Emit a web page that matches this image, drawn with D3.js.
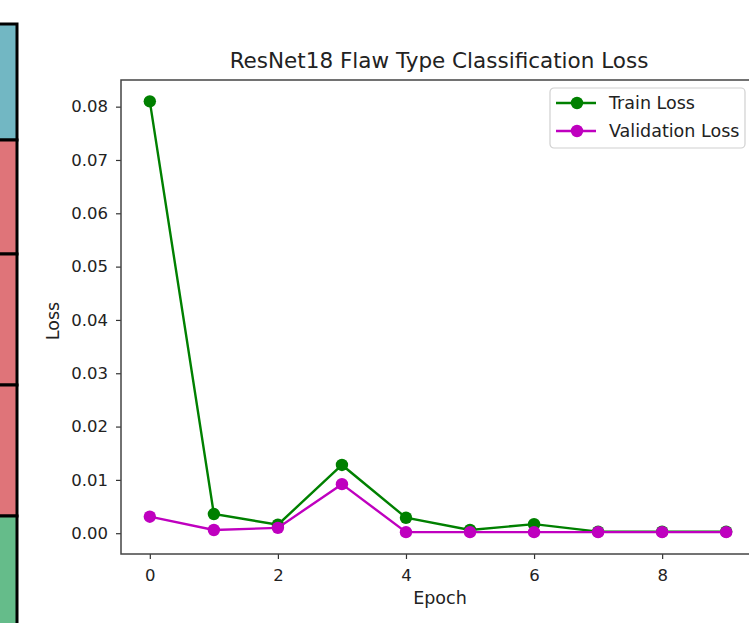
<!DOCTYPE html>
<html>
<head>
<meta charset="utf-8">
<script src="https://cdn.jsdelivr.net/npm/d3@7"></script>
<style>
  html, body { margin: 0; padding: 0; background: #fff; }
  svg { display: block; }
  text { font-family: "DejaVu Sans", sans-serif; fill: #222; }
</style>
</head>
<body>
<svg id="chart" width="749" height="623"></svg>
<script>
const epochs = [0, 1, 2, 3, 4, 5, 6, 7, 8, 9];
const trainLoss = [0.0810, 0.0036, 0.0016, 0.0128, 0.0029, 0.0006, 0.0017, 0.0003, 0.0003, 0.0003];
const valLoss   = [0.0031, 0.0006, 0.0010, 0.0092, 0.0002, 0.0002, 0.0002, 0.0002, 0.0002, 0.0002];
const xTicks = [0, 2, 4, 6, 8];
const yTicks = [0.00, 0.01, 0.02, 0.03, 0.04, 0.05, 0.06, 0.07, 0.08];
const seriesNames = ["Train Loss", "Validation Loss"];
const seriesColors = ["#008000", "#bf00bf"];
const stripColors = ["#72b7c3", "#df7479", "#df7479", "#df7479", "#65bc8a"];

const svg = d3.select("#chart");

// left strip (cropped neighbouring table)
const stripEdges = [24, 140, 254, 385, 516, 640];
svg.append("g").selectAll("rect").data(stripColors).join("rect")
  .attr("x", -4).attr("width", 21)
  .attr("y", (d, i) => stripEdges[i])
  .attr("height", (d, i) => stripEdges[i + 1] - stripEdges[i])
  .attr("fill", d => d)
  .attr("stroke", "#000").attr("stroke-width", 3);

const mLeft = 121, mRight = 755, mTop = 80, mBottom = 554;
const x = d3.scaleLinear().domain([-0.45, 9.45]).range([mLeft, mRight]);
const y = d3.scaleLinear().domain([-0.0039, 0.085]).range([mBottom, mTop]);

// axes
const xAxis = d3.axisBottom(x).tickValues(xTicks).tickFormat(d3.format("d")).tickSize(5).tickPadding(10);
const yAxis = d3.axisLeft(y).tickValues(yTicks).tickFormat(d3.format(".2f")).tickSize(5).tickPadding(8);

const gx = svg.append("g").attr("transform", `translate(0,${mBottom})`).call(xAxis);
const gy = svg.append("g").attr("transform", `translate(${mLeft},0)`).call(yAxis);
[gx, gy].forEach(g => {
  g.select(".domain").remove();
  g.selectAll(".tick line").attr("stroke", "#333").attr("stroke-width", 1.2);
  g.selectAll(".tick text").attr("font-family", "DejaVu Sans, sans-serif").attr("font-size", 16.5).attr("fill", "#222");
});

// frame
svg.append("rect").attr("x", mLeft).attr("y", mTop)
  .attr("width", mRight - mLeft).attr("height", mBottom - mTop)
  .attr("fill", "none").attr("stroke", "#444").attr("stroke-width", 1.5);

// series
const series = [trainLoss, valLoss];
const line = d3.line().x((d, i) => x(epochs[i])).y(d => y(d));
series.forEach((vals, si) => {
  svg.append("path").datum(vals).attr("d", line)
    .attr("fill", "none").attr("stroke", seriesColors[si]).attr("stroke-width", 2.4);
  svg.append("g").selectAll("circle").data(vals).join("circle")
    .attr("cx", (d, i) => x(epochs[i])).attr("cy", d => y(d)).attr("r", 6.2)
    .attr("fill", seriesColors[si]);
});

// title and labels
svg.append("text").attr("x", (mLeft + mRight) / 2 + 1).attr("y", 68)
  .attr("text-anchor", "middle").attr("font-size", 21.5).text("ResNet18 Flaw Type Classification Loss");
svg.append("text").attr("x", 440).attr("y", 604)
  .attr("text-anchor", "middle").attr("font-size", 17.5).text("Epoch");
svg.append("text").attr("transform", "translate(59,321) rotate(-90)")
  .attr("text-anchor", "middle").attr("font-size", 17.5).text("Loss");

// legend
const lg = svg.append("g").attr("transform", "translate(550,88)");
lg.append("rect").attr("width", 195).attr("height", 60).attr("rx", 4)
  .attr("fill", "#fff").attr("stroke", "#d0d0d0").attr("stroke-width", 1.2);
seriesNames.forEach((name, i) => {
  const cy = 15 + i * 28;
  lg.append("line").attr("x1", 6).attr("x2", 46).attr("y1", cy).attr("y2", cy)
    .attr("stroke", seriesColors[i]).attr("stroke-width", 2.4);
  lg.append("circle").attr("cx", 27).attr("cy", cy).attr("r", 6.2).attr("fill", seriesColors[i]);
  lg.append("text").attr("x", 59).attr("y", cy + 6).attr("font-size", 17.5).text(name);
});
</script>
</body>
</html>
